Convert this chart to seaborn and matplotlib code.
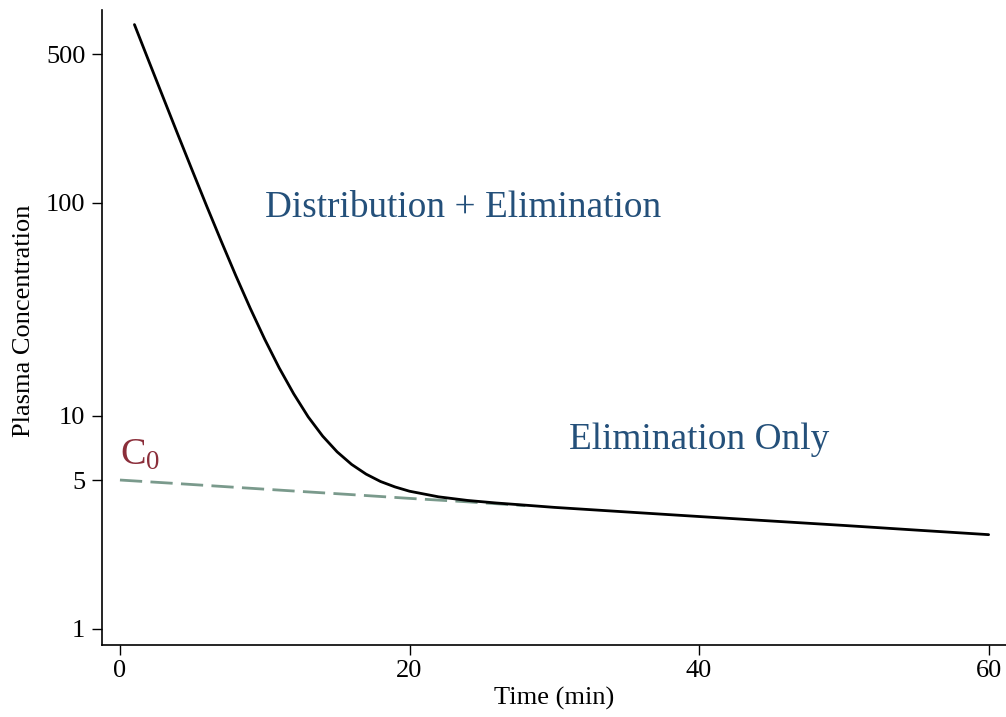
import matplotlib
matplotlib.use("Agg")
import matplotlib.pyplot as plt
import seaborn as sns
import pandas as pd

# Observed plasma concentration after an IV bolus (two-compartment decline)
time_min = [1, 2, 3, 4, 5, 6, 7, 8, 9, 10, 11, 12, 13, 14, 15, 16, 17, 18,
            19, 20, 22, 24, 26, 28, 30, 35, 40, 45, 50, 55, 60]
concentration = [688, 462, 311, 209.5, 141.8, 96.3, 66.0, 45.6, 32.0, 22.9,
                 16.8, 12.7, 9.9, 8.04, 6.78, 5.92, 5.33, 4.92, 4.64, 4.43,
                 4.17, 4.01, 3.90, 3.81, 3.72, 3.54, 3.37, 3.21, 3.06, 2.91,
                 2.77]

# Back-extrapolated terminal (elimination) phase, intercept C0 = 5
elim_time = [0, 4, 8, 12, 16, 20, 24, 28]
elim_conc = [5.00, 4.81, 4.62, 4.44, 4.27, 4.10, 3.95, 3.79]

y_ticks = [1, 5, 10, 100, 500]
x_ticks = [0, 20, 40, 60]

sns.set_theme(style="ticks")
plt.rcParams["font.family"] = ["Liberation Serif", "DejaVu Serif"]
plt.rcParams["mathtext.fontset"] = "custom"
plt.rcParams["mathtext.rm"] = "Liberation Serif"
plt.rcParams["mathtext.it"] = "Liberation Serif:italic"

fig = plt.figure(figsize=(10.06, 7.17), dpi=100)
ax = fig.add_axes([0.1014, 0.1004, 0.8986, 0.8856])

curve = pd.DataFrame({"t": time_min, "c": concentration})
terminal = pd.DataFrame({"t": elim_time, "c": elim_conc})

sns.lineplot(data=terminal, x="t", y="c", ax=ax, color="#7a9a8c",
             linewidth=2.0, dashes=False, linestyle=(0, (8, 3)))
sns.lineplot(data=curve, x="t", y="c", ax=ax, color="black", linewidth=2.0)

ax.set_yscale("log")
ax.set_xlim(-1.24, 61.2)
ax.set_ylim(0.84, 805)
ax.set_yticks(y_ticks)
ax.set_yticklabels([str(v) for v in y_ticks])
ax.yaxis.set_minor_locator(matplotlib.ticker.NullLocator())
ax.set_xticks(x_ticks)
ax.set_xticklabels([str(v) for v in x_ticks])

ax.tick_params(axis="both", which="major", direction="out", length=7,
               width=1.0, color="black", labelsize=19, labelcolor="black",
               pad=4)
ax.tick_params(axis="y", pad=5)
ax.set_xlabel("Time (min)", fontsize=19, color="black", labelpad=3)
ax.set_ylabel("Plasma Concentration", fontsize=19, color="black")
ax.yaxis.set_label_coords(-0.074, 0.51)

for side in ["top", "right"]:
    ax.spines[side].set_visible(False)
for side in ["left", "bottom"]:
    ax.spines[side].set_color("black")
    ax.spines[side].set_linewidth(1.2)

ax.text(10, 86, "Distribution + Elimination", fontsize=26.8, color="#24507a",
        ha="left", va="baseline")
ax.text(31, 7.0, "Elimination Only", fontsize=26.8, color="#24507a",
        ha="left", va="baseline")
ax.text(0, 5.9, r"$\mathrm{C}_{\mathrm{0}}$", fontsize=27.5, color="#8b2e3a",
        ha="left", va="baseline")

fig.savefig("out.png", dpi=100, facecolor="white")
